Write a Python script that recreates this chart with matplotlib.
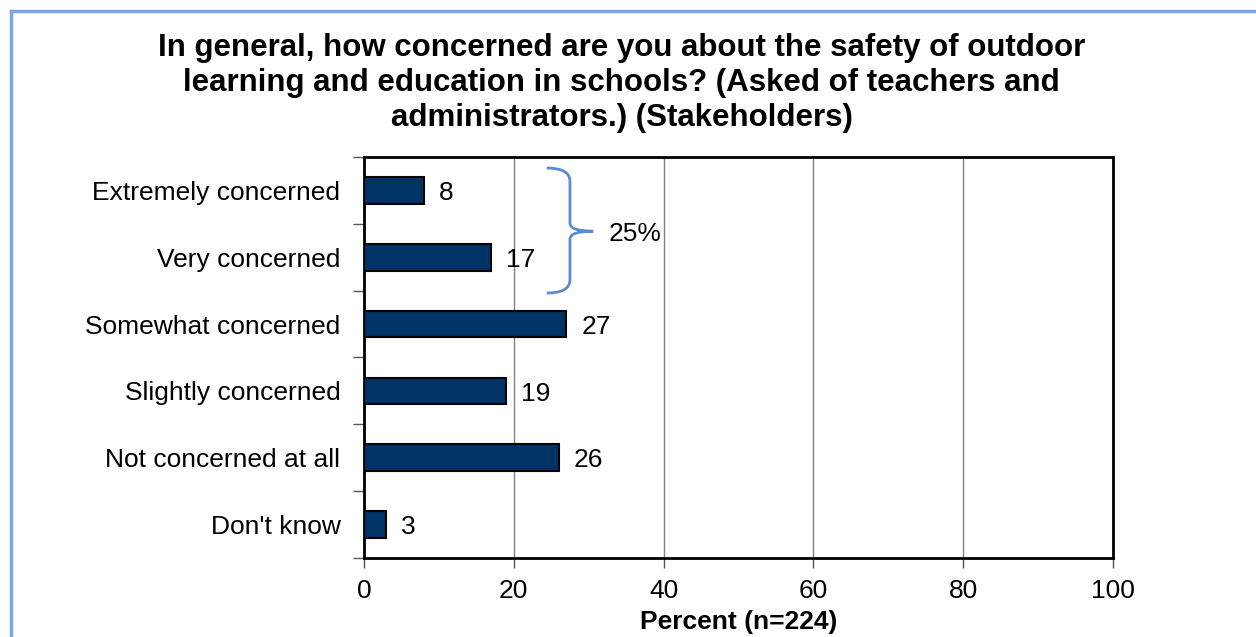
import matplotlib
matplotlib.use("Agg")
import matplotlib.pyplot as plt
from matplotlib.path import Path
from matplotlib.patches import PathPatch
from matplotlib.lines import Line2D

plt.rcParams["font.family"] = ["Liberation Sans", "DejaVu Sans"]

categories = [
    "Extremely concerned",
    "Very concerned",
    "Somewhat concerned",
    "Slightly concerned",
    "Not concerned at all",
    "Don't know",
]
percents = [8, 17, 27, 19, 26, 3]
x_ticks = [0, 20, 40, 60, 80, 100]
brace_label = "25%"

title = ("In general, how concerned are you about the safety of outdoor\n"
         "learning and education in schools? (Asked of teachers and\n"
         "administrators.) (Stakeholders)")


def main():
    fig = plt.figure(figsize=(12.56, 6.37), dpi=100)
    ax = fig.add_axes([364 / 1256, 1 - 558 / 637, 749 / 1256, 401 / 637])

    pos = list(range(len(categories)))
    ax.barh(pos, percents, height=0.4, color="#003366",
            edgecolor="black", linewidth=1.5, zorder=3)
    for p, v in zip(pos, percents):
        ax.text(v + 2, p + 0.04, str(v), va="center", ha="left", fontsize=19)

    ax.set_xlim(0, 100)
    ax.set_ylim(len(categories) - 0.5, -0.5)
    ax.set_xticks(x_ticks)
    ax.set_xticklabels([str(t) for t in x_ticks], fontsize=19)
    ax.set_yticks(pos)
    ax.set_yticklabels(categories, fontsize=19)
    ax.tick_params(axis="y", length=0, pad=17)
    ax.set_yticks([p - 0.5 for p in pos] + [len(pos) - 0.5], minor=True)
    ax.tick_params(axis="y", which="minor", length=8, width=1, color="#555555")
    ax.tick_params(axis="x", length=7, width=1, color="#555555", pad=8)
    ax.grid(axis="x", color="#808080", linewidth=1, zorder=0)
    for s in ax.spines.values():
        s.set_linewidth(2)
        s.set_color("black")
    ax.set_xlabel("Percent (n=224)", fontsize=19, fontweight="bold", labelpad=5)

    # curly brace grouping the two top answers
    xa, xb, xt = 24.4, 27.5, 30.6
    y0, ym, y1 = -0.335, 0.61, 1.536
    verts = [(xa, y0), (xb, y0), (xb, y0 + 0.2),
             (xb, ym - 0.12), (xb, ym), (xt, ym),
             (xb, ym), (xb, ym + 0.12),
             (xb, y1 - 0.2), (xb, y1), (xa, y1)]
    codes = [Path.MOVETO, Path.CURVE3, Path.CURVE3,
             Path.LINETO, Path.CURVE3, Path.CURVE3,
             Path.CURVE3, Path.CURVE3,
             Path.LINETO, Path.CURVE3, Path.CURVE3]
    ax.add_patch(PathPatch(Path(verts, codes), fill=False,
                           edgecolor="#5B8BD0", linewidth=2, zorder=4))
    ax.text(32.6, ym + 0.04, brace_label, va="center", ha="left", fontsize=19)

    fig.text(0.495, 1 - 33 / 637, title, ha="center", va="top",
             fontsize=22.5, fontweight="bold", linespacing=1.22)

    # outer frame
    fig.add_artist(Line2D([11 / 1256, 11 / 1256], [0, 1 - 11 / 637],
                          transform=fig.transFigure, color="#7BA7E0", lw=2.5))
    fig.add_artist(Line2D([11 / 1256, 1], [1 - 11 / 637, 1 - 11 / 637],
                          transform=fig.transFigure, color="#7BA7E0", lw=2.5))

    fig.savefig("out.png", dpi=100)


if __name__ == "__main__":
    main()
